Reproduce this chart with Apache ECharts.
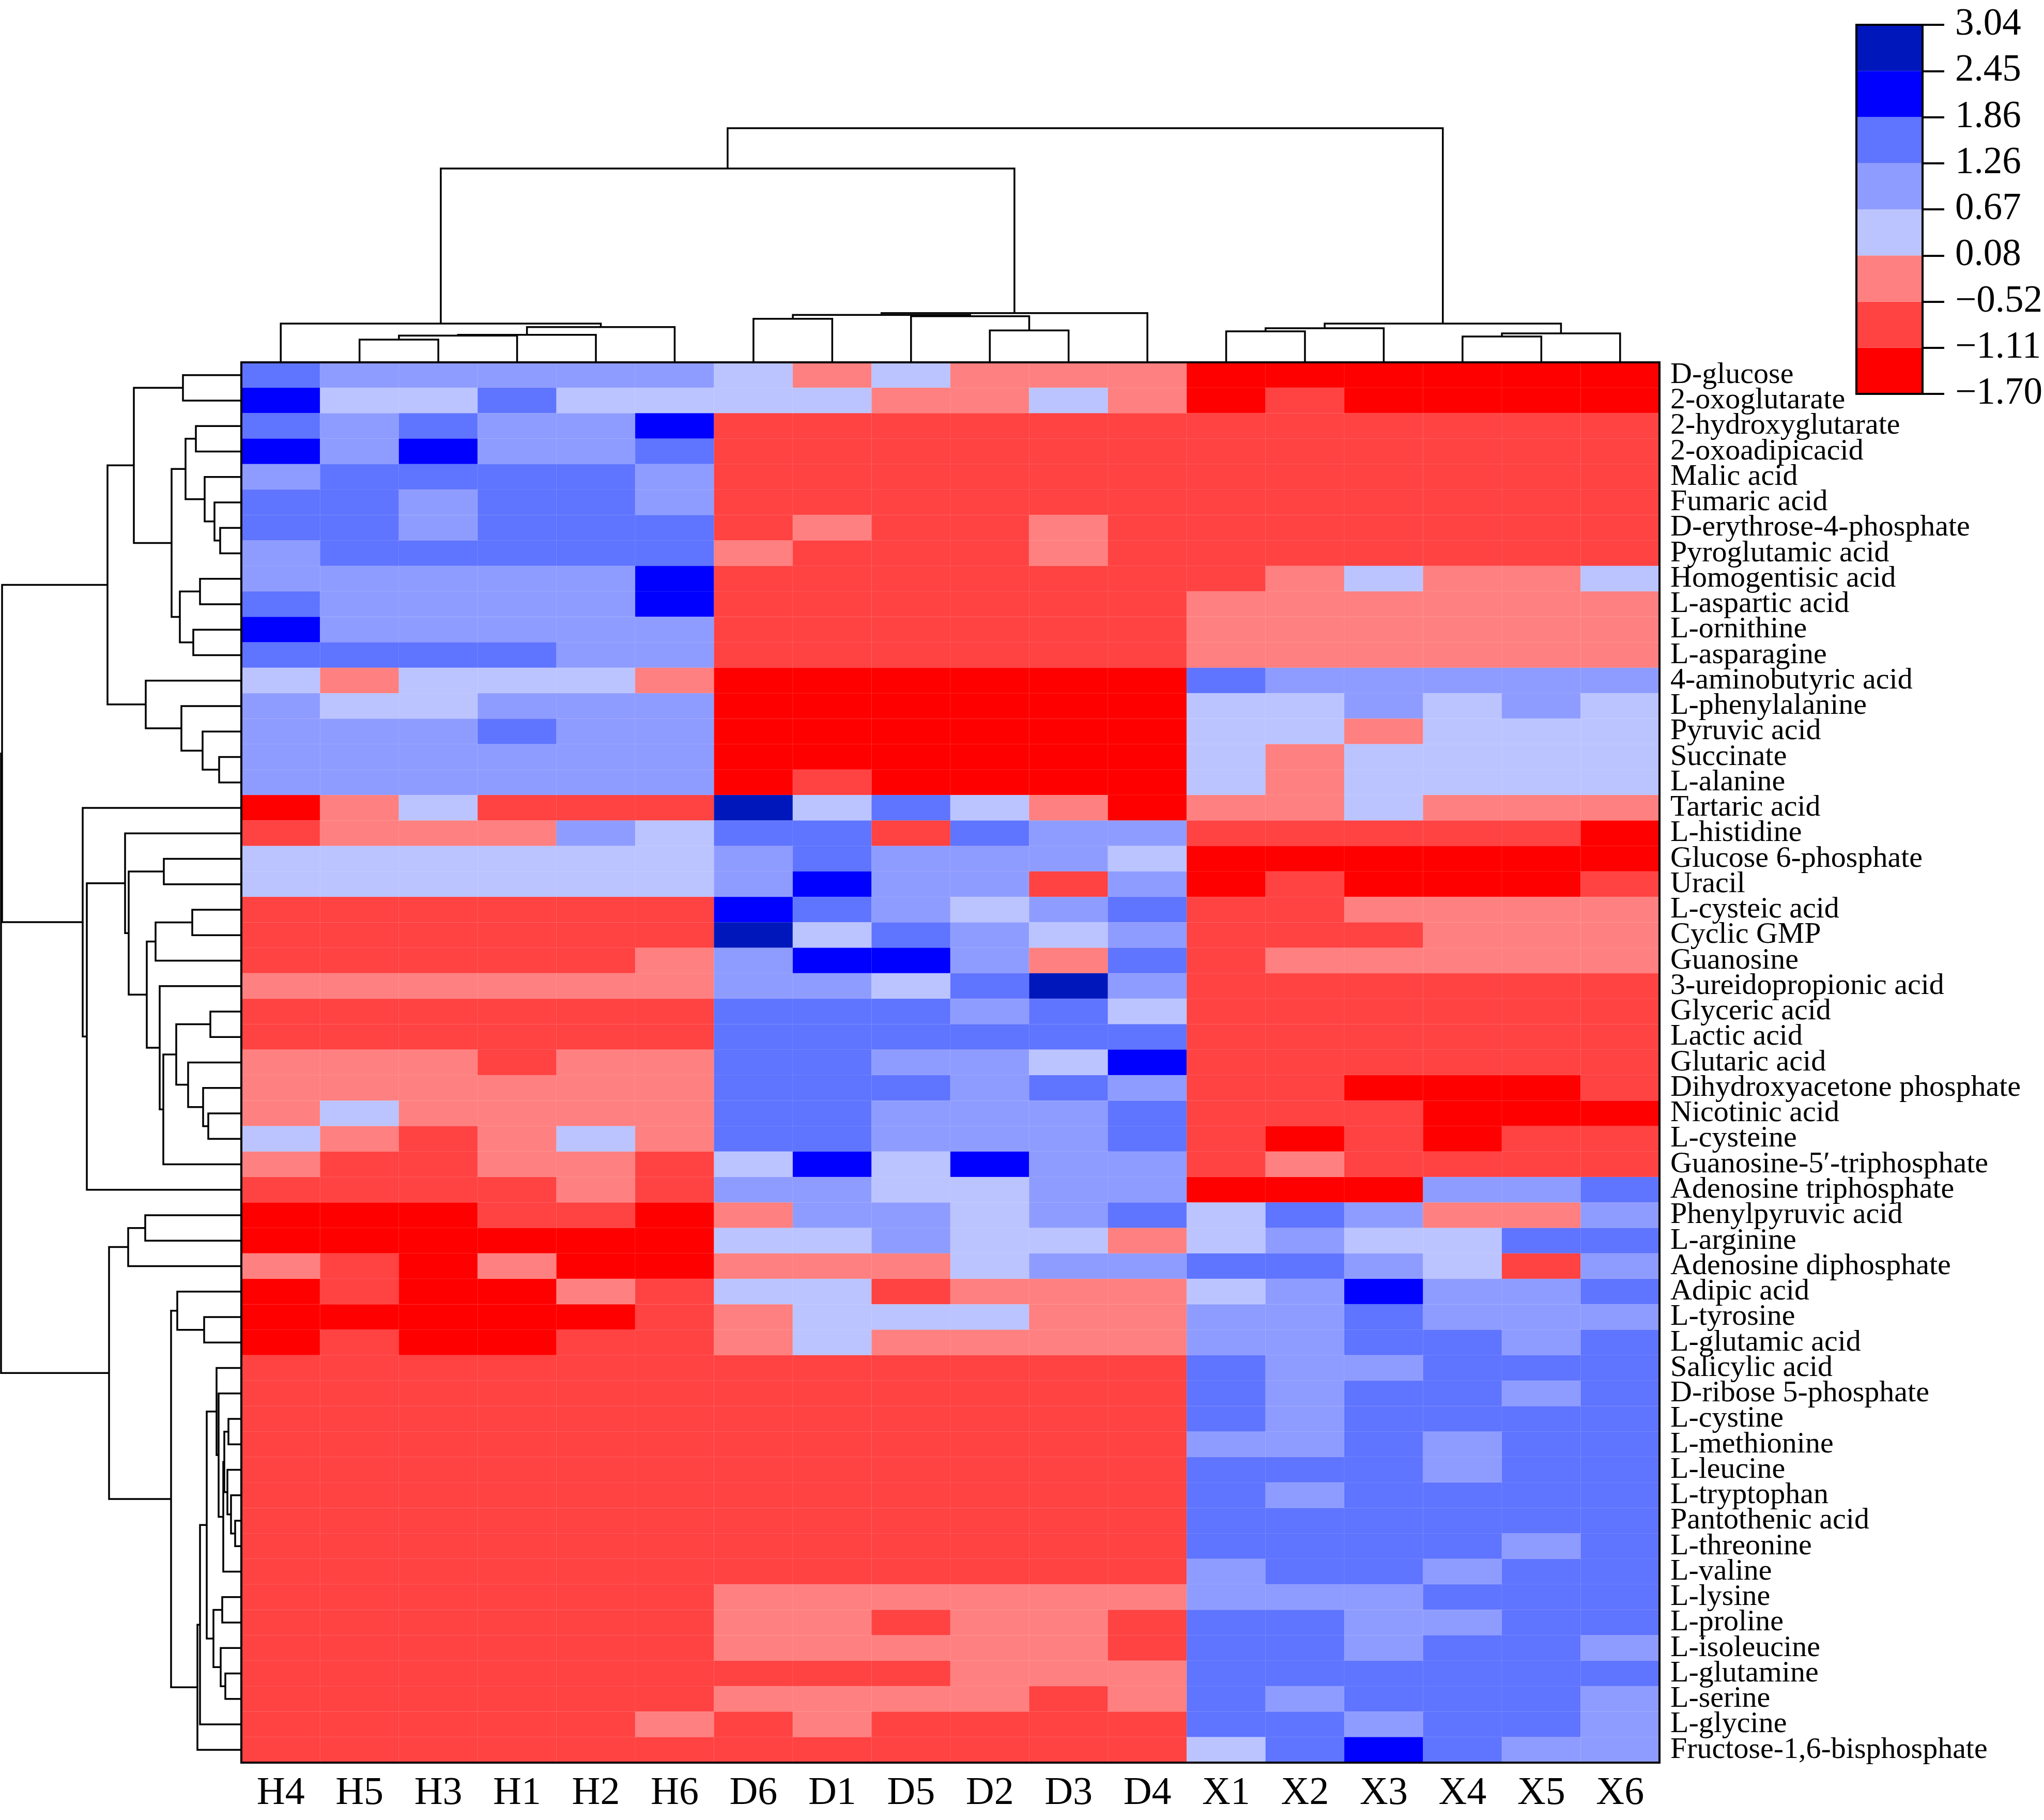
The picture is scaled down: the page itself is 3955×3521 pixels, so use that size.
<!DOCTYPE html>
<html>
<head>
    <meta charset="utf-8">
    <title>Metabolite heatmap</title>
    <script src="https://cdn.jsdelivr.net/npm/echarts@6/dist/echarts.min.js"></script>
    <style>
        html, body { margin: 0; padding: 0; background: #fff; }
        #main { width: 3955px; height: 3521px; }
    </style>
</head>
<body>
<div id="main"></div>
<script type="text/javascript">
    // column order as in the clustered picture
    var samples = ['H4', 'H5', 'H3', 'H1', 'H2', 'H6', 'D6', 'D1', 'D5', 'D2', 'D3', 'D4', 'X1', 'X2', 'X3', 'X4', 'X5', 'X6'];

    var metabolites = ['D-glucose', '2-oxoglutarate', '2-hydroxyglutarate', '2-oxoadipicacid', 'Malic acid', 'Fumaric acid',
        'D-erythrose-4-phosphate', 'Pyroglutamic acid', 'Homogentisic acid', 'L-aspartic acid', 'L-ornithine', 'L-asparagine',
        '4-aminobutyric acid', 'L-phenylalanine', 'Pyruvic acid', 'Succinate', 'L-alanine', 'Tartaric acid', 'L-histidine',
        'Glucose 6-phosphate', 'Uracil', 'L-cysteic acid', 'Cyclic GMP', 'Guanosine', '3-ureidopropionic acid', 'Glyceric acid',
        'Lactic acid', 'Glutaric acid', 'Dihydroxyacetone phosphate', 'Nicotinic acid', 'L-cysteine',
        'Guanosine-5\u2032-triphosphate', 'Adenosine triphosphate', 'Phenylpyruvic acid', 'L-arginine', 'Adenosine diphosphate',
        'Adipic acid', 'L-tyrosine', 'L-glutamic acid', 'Salicylic acid', 'D-ribose 5-phosphate', 'L-cystine', 'L-methionine',
        'L-leucine', 'L-tryptophan', 'Pantothenic acid', 'L-threonine', 'L-valine', 'L-lysine', 'L-proline', 'L-isoleucine',
        'L-glutamine', 'L-serine', 'L-glycine', 'Fructose-1,6-bisphosphate'];

    // z-scores, one row per metabolite, columns in sample order
    var values = [
        [1.56, 0.97, 0.97, 0.97, 0.97, 0.97, 0.38, -0.22, 0.38, -0.22, -0.22, -0.22, -1.45, -1.45, -1.45, -1.45, -1.45, -1.45],
        [2.15, 0.38, 0.38, 1.56, 0.38, 0.38, 0.38, 0.38, -0.22, -0.22, 0.38, -0.22, -1.45, -0.82, -1.45, -1.45, -1.45, -1.45],
        [1.56, 0.97, 1.56, 0.97, 0.97, 2.15, -0.82, -0.82, -0.82, -0.82, -0.82, -0.82, -0.82, -0.82, -0.82, -0.82, -0.82, -0.82],
        [2.15, 0.97, 2.15, 0.97, 0.97, 1.56, -0.82, -0.82, -0.82, -0.82, -0.82, -0.82, -0.82, -0.82, -0.82, -0.82, -0.82, -0.82],
        [0.97, 1.56, 1.56, 1.56, 1.56, 0.97, -0.82, -0.82, -0.82, -0.82, -0.82, -0.82, -0.82, -0.82, -0.82, -0.82, -0.82, -0.82],
        [1.56, 1.56, 0.97, 1.56, 1.56, 0.97, -0.82, -0.82, -0.82, -0.82, -0.82, -0.82, -0.82, -0.82, -0.82, -0.82, -0.82, -0.82],
        [1.56, 1.56, 0.97, 1.56, 1.56, 1.56, -0.82, -0.22, -0.82, -0.82, -0.22, -0.82, -0.82, -0.82, -0.82, -0.82, -0.82, -0.82],
        [0.97, 1.56, 1.56, 1.56, 1.56, 1.56, -0.22, -0.82, -0.82, -0.82, -0.22, -0.82, -0.82, -0.82, -0.82, -0.82, -0.82, -0.82],
        [0.97, 0.97, 0.97, 0.97, 0.97, 2.15, -0.82, -0.82, -0.82, -0.82, -0.82, -0.82, -0.82, -0.22, 0.38, -0.22, -0.22, 0.38],
        [1.56, 0.97, 0.97, 0.97, 0.97, 2.15, -0.82, -0.82, -0.82, -0.82, -0.82, -0.82, -0.22, -0.22, -0.22, -0.22, -0.22, -0.22],
        [2.15, 0.97, 0.97, 0.97, 0.97, 0.97, -0.82, -0.82, -0.82, -0.82, -0.82, -0.82, -0.22, -0.22, -0.22, -0.22, -0.22, -0.22],
        [1.56, 1.56, 1.56, 1.56, 0.97, 0.97, -0.82, -0.82, -0.82, -0.82, -0.82, -0.82, -0.22, -0.22, -0.22, -0.22, -0.22, -0.22],
        [0.38, -0.22, 0.38, 0.38, 0.38, -0.22, -1.45, -1.45, -1.45, -1.45, -1.45, -1.45, 1.56, 0.97, 0.97, 0.97, 0.97, 0.97],
        [0.97, 0.38, 0.38, 0.97, 0.97, 0.97, -1.45, -1.45, -1.45, -1.45, -1.45, -1.45, 0.38, 0.38, 0.97, 0.38, 0.97, 0.38],
        [0.97, 0.97, 0.97, 1.56, 0.97, 0.97, -1.45, -1.45, -1.45, -1.45, -1.45, -1.45, 0.38, 0.38, -0.22, 0.38, 0.38, 0.38],
        [0.97, 0.97, 0.97, 0.97, 0.97, 0.97, -1.45, -1.45, -1.45, -1.45, -1.45, -1.45, 0.38, -0.22, 0.38, 0.38, 0.38, 0.38],
        [0.97, 0.97, 0.97, 0.97, 0.97, 0.97, -1.45, -0.82, -1.45, -1.45, -1.45, -1.45, 0.38, -0.22, 0.38, 0.38, 0.38, 0.38],
        [-1.45, -0.22, 0.38, -0.82, -0.82, -0.82, 2.75, 0.38, 1.56, 0.38, -0.22, -1.45, -0.22, -0.22, 0.38, -0.22, -0.22, -0.22],
        [-0.82, -0.22, -0.22, -0.22, 0.97, 0.38, 1.56, 1.56, -0.82, 1.56, 0.97, 0.97, -0.82, -0.82, -0.82, -0.82, -0.82, -1.45],
        [0.38, 0.38, 0.38, 0.38, 0.38, 0.38, 0.97, 1.56, 0.97, 0.97, 0.97, 0.38, -1.45, -1.45, -1.45, -1.45, -1.45, -1.45],
        [0.38, 0.38, 0.38, 0.38, 0.38, 0.38, 0.97, 2.15, 0.97, 0.97, -0.82, 0.97, -1.45, -0.82, -1.45, -1.45, -1.45, -0.82],
        [-0.82, -0.82, -0.82, -0.82, -0.82, -0.82, 2.15, 1.56, 0.97, 0.38, 0.97, 1.56, -0.82, -0.82, -0.22, -0.22, -0.22, -0.22],
        [-0.82, -0.82, -0.82, -0.82, -0.82, -0.82, 2.75, 0.38, 1.56, 0.97, 0.38, 0.97, -0.82, -0.82, -0.82, -0.22, -0.22, -0.22],
        [-0.82, -0.82, -0.82, -0.82, -0.82, -0.22, 0.97, 2.15, 2.15, 0.97, -0.22, 1.56, -0.82, -0.22, -0.22, -0.22, -0.22, -0.22],
        [-0.22, -0.22, -0.22, -0.22, -0.22, -0.22, 0.97, 0.97, 0.38, 1.56, 2.75, 0.97, -0.82, -0.82, -0.82, -0.82, -0.82, -0.82],
        [-0.82, -0.82, -0.82, -0.82, -0.82, -0.82, 1.56, 1.56, 1.56, 0.97, 1.56, 0.38, -0.82, -0.82, -0.82, -0.82, -0.82, -0.82],
        [-0.82, -0.82, -0.82, -0.82, -0.82, -0.82, 1.56, 1.56, 1.56, 1.56, 1.56, 1.56, -0.82, -0.82, -0.82, -0.82, -0.82, -0.82],
        [-0.22, -0.22, -0.22, -0.82, -0.22, -0.22, 1.56, 1.56, 0.97, 0.97, 0.38, 2.15, -0.82, -0.82, -0.82, -0.82, -0.82, -0.82],
        [-0.22, -0.22, -0.22, -0.22, -0.22, -0.22, 1.56, 1.56, 1.56, 0.97, 1.56, 0.97, -0.82, -0.82, -1.45, -1.45, -1.45, -0.82],
        [-0.22, 0.38, -0.22, -0.22, -0.22, -0.22, 1.56, 1.56, 0.97, 0.97, 0.97, 1.56, -0.82, -0.82, -0.82, -1.45, -1.45, -1.45],
        [0.38, -0.22, -0.82, -0.22, 0.38, -0.22, 1.56, 1.56, 0.97, 0.97, 0.97, 1.56, -0.82, -1.45, -0.82, -1.45, -0.82, -0.82],
        [-0.22, -0.82, -0.82, -0.22, -0.22, -0.82, 0.38, 2.15, 0.38, 2.15, 0.97, 0.97, -0.82, -0.22, -0.82, -0.82, -0.82, -0.82],
        [-0.82, -0.82, -0.82, -0.82, -0.22, -0.82, 0.97, 0.97, 0.38, 0.38, 0.97, 0.97, -1.45, -1.45, -1.45, 0.97, 0.97, 1.56],
        [-1.45, -1.45, -1.45, -0.82, -0.82, -1.45, -0.22, 0.97, 0.97, 0.38, 0.97, 1.56, 0.38, 1.56, 0.97, -0.22, -0.22, 0.97],
        [-1.45, -1.45, -1.45, -1.45, -1.45, -1.45, 0.38, 0.38, 0.97, 0.38, 0.38, -0.22, 0.38, 0.97, 0.38, 0.38, 1.56, 1.56],
        [-0.22, -0.82, -1.45, -0.22, -1.45, -1.45, -0.22, -0.22, -0.22, 0.38, 0.97, 0.97, 1.56, 1.56, 0.97, 0.38, -0.82, 0.97],
        [-1.45, -0.82, -1.45, -1.45, -0.22, -0.82, 0.38, 0.38, -0.82, -0.22, -0.22, -0.22, 0.38, 0.97, 2.15, 0.97, 0.97, 1.56],
        [-1.45, -1.45, -1.45, -1.45, -1.45, -0.82, -0.22, 0.38, 0.38, 0.38, -0.22, -0.22, 0.97, 0.97, 1.56, 0.97, 0.97, 0.97],
        [-1.45, -0.82, -1.45, -1.45, -0.82, -0.82, -0.22, 0.38, -0.22, -0.22, -0.22, -0.22, 0.97, 0.97, 1.56, 1.56, 0.97, 1.56],
        [-0.82, -0.82, -0.82, -0.82, -0.82, -0.82, -0.82, -0.82, -0.82, -0.82, -0.82, -0.82, 1.56, 0.97, 0.97, 1.56, 1.56, 1.56],
        [-0.82, -0.82, -0.82, -0.82, -0.82, -0.82, -0.82, -0.82, -0.82, -0.82, -0.82, -0.82, 1.56, 0.97, 1.56, 1.56, 0.97, 1.56],
        [-0.82, -0.82, -0.82, -0.82, -0.82, -0.82, -0.82, -0.82, -0.82, -0.82, -0.82, -0.82, 1.56, 0.97, 1.56, 1.56, 1.56, 1.56],
        [-0.82, -0.82, -0.82, -0.82, -0.82, -0.82, -0.82, -0.82, -0.82, -0.82, -0.82, -0.82, 0.97, 0.97, 1.56, 0.97, 1.56, 1.56],
        [-0.82, -0.82, -0.82, -0.82, -0.82, -0.82, -0.82, -0.82, -0.82, -0.82, -0.82, -0.82, 1.56, 1.56, 1.56, 0.97, 1.56, 1.56],
        [-0.82, -0.82, -0.82, -0.82, -0.82, -0.82, -0.82, -0.82, -0.82, -0.82, -0.82, -0.82, 1.56, 0.97, 1.56, 1.56, 1.56, 1.56],
        [-0.82, -0.82, -0.82, -0.82, -0.82, -0.82, -0.82, -0.82, -0.82, -0.82, -0.82, -0.82, 1.56, 1.56, 1.56, 1.56, 1.56, 1.56],
        [-0.82, -0.82, -0.82, -0.82, -0.82, -0.82, -0.82, -0.82, -0.82, -0.82, -0.82, -0.82, 1.56, 1.56, 1.56, 1.56, 0.97, 1.56],
        [-0.82, -0.82, -0.82, -0.82, -0.82, -0.82, -0.82, -0.82, -0.82, -0.82, -0.82, -0.82, 0.97, 1.56, 1.56, 0.97, 1.56, 1.56],
        [-0.82, -0.82, -0.82, -0.82, -0.82, -0.82, -0.22, -0.22, -0.22, -0.22, -0.22, -0.22, 0.97, 0.97, 0.97, 1.56, 1.56, 1.56],
        [-0.82, -0.82, -0.82, -0.82, -0.82, -0.82, -0.22, -0.22, -0.82, -0.22, -0.22, -0.82, 1.56, 1.56, 0.97, 0.97, 1.56, 1.56],
        [-0.82, -0.82, -0.82, -0.82, -0.82, -0.82, -0.22, -0.22, -0.22, -0.22, -0.22, -0.82, 1.56, 1.56, 0.97, 1.56, 1.56, 0.97],
        [-0.82, -0.82, -0.82, -0.82, -0.82, -0.82, -0.82, -0.82, -0.82, -0.22, -0.22, -0.22, 1.56, 1.56, 1.56, 1.56, 1.56, 1.56],
        [-0.82, -0.82, -0.82, -0.82, -0.82, -0.82, -0.22, -0.22, -0.22, -0.22, -0.82, -0.22, 1.56, 0.97, 1.56, 1.56, 1.56, 0.97],
        [-0.82, -0.82, -0.82, -0.82, -0.82, -0.22, -0.82, -0.22, -0.82, -0.82, -0.82, -0.82, 1.56, 1.56, 0.97, 1.56, 1.56, 0.97],
        [-0.82, -0.82, -0.82, -0.82, -0.82, -0.82, -0.82, -0.82, -0.82, -0.82, -0.82, -0.82, 0.38, 1.56, 2.15, 1.56, 0.97, 0.97]
    ];

    // linkage tables: [child a, child b, merge height]; ids >= n are earlier merges
    var colLinkage = [
        [1, 2, 4.3], [18, 3, 5.07], [19, 4, 5.23], [20, 5, 6.73], [0, 21, 7.4],
        [6, 7, 8.33], [9, 10, 6.07], [8, 24, 8.83], [23, 25, 9.07], [26, 11, 9.43],
        [22, 27, 37.4],
        [12, 13, 5.9], [29, 14, 6.5], [15, 16, 4.9], [31, 17, 5.5], [30, 32, 7.4],
        [28, 33, 45.2]
    ];

    var rowLinkage = [
        [0, 1, 11.2], [2, 3, 8.7], [6, 7, 4.0], [5, 57, 5.1], [4, 58, 7.0], [56, 59, 10.7],
        [8, 9, 7.9], [10, 11, 9.2], [61, 62, 11.8], [60, 63, 13.4], [55, 64, 20.7],
        [15, 16, 4.2], [14, 66, 7.4], [13, 67, 11.5], [12, 68, 18.4], [65, 69, 25.8],
        [19, 20, 14.9], [21, 22, 9.4], [72, 23, 16.5], [25, 26, 5.9], [29, 30, 6.3], [28, 75, 7.3],
        [27, 76, 10.2], [74, 77, 12.5], [78, 31, 15.0], [24, 79, 15.7], [73, 80, 18.2], [71, 81, 21.7],
        [18, 82, 22.4], [83, 32, 29.8], [17, 84, 30.6],
        [33, 34, 18.5], [86, 35, 21.8], [37, 38, 7.1], [36, 88, 12.3],
        [45, 46, 1.1], [44, 90, 1.9], [43, 91, 2.6], [41, 42, 2.4], [93, 92, 3.2], [94, 47, 3.4],
        [40, 95, 4.3], [39, 96, 4.7], [48, 49, 3.6], [51, 52, 3.0], [50, 99, 3.9], [98, 100, 5.3],
        [97, 101, 6.6], [102, 53, 7.9], [103, 54, 8.4], [89, 104, 13.5], [87, 105, 25.5],
        [70, 85, 46.2], [107, 106, 46.4]
    ];

    var levelBounds = [-1.70, -1.11, -0.52, 0.08, 0.67, 1.26, 1.86, 2.45, 3.04];
    var boundLabels = ['\u22121.70', '\u22121.11', '\u22120.52', '0.08', '0.67', '1.26', '1.86', '2.45', '3.04'];
    var levelColors = ['#ff0000', '#ff4242', '#ff8080', '#bbc4ff', '#8f9cff', '#5f74ff', '#0000ff', '#0018bb'];

    var FONT = 'Liberation Serif, Times New Roman, serif';

    function dendroLines(linkage, nLeaves, swap) {
        var pos = [], hgt = [], out = [];
        for (var i = 0; i < nLeaves; i++) { pos.push(i); hgt.push(0); }
        linkage.forEach(function (m) {
            var a = m[0], b = m[1], h = m[2];
            var pts = [[pos[a], hgt[a]], [pos[a], h], [pos[b], h], [pos[b], hgt[b]]];
            if (swap) pts = pts.map(function (p) { return [p[1], p[0]]; });
            out.push({ coords: pts });
            pos.push((pos[a] + pos[b]) / 2);
            hgt.push(h);
        });
        return out;
    }

    var heatData = [];
    values.forEach(function (row, r) {
        row.forEach(function (v, c) { heatData.push([c, r, v]); });
    });

    var pieces = [];
    for (var k = 0; k < levelColors.length; k++) {
        pieces.push({ gte: levelBounds[k], lt: levelBounds[k + 1], color: levelColors[k] });
    }

    var barSeries = levelColors.map(function (col, i) {
        return {
            type: 'bar', name: 'lvl' + i, xAxisIndex: 3, yAxisIndex: 3, stack: 'cb',
            barWidth: '100%', silent: true, data: [1], itemStyle: { color: col }
        };
    });

    var myChart = echarts.init(document.getElementById('main'), null, { renderer: 'canvas' });

    var option = {
        backgroundColor: '#fff',
        animation: false,
        grid: [
            { left: 467, top: 701, width: 2744, height: 2709, show: true, z: 10,
              borderColor: '#000', borderWidth: 4, backgroundColor: 'transparent' },
            { left: 467, top: 248, width: 2744, height: 452 },
            { left: 1, top: 701, width: 465, height: 2709 },
            { left: 3592, top: 48, width: 128, height: 714, show: true, z: 10,
              borderColor: '#000', borderWidth: 4, backgroundColor: 'transparent' }
        ],
        xAxis: [
            { type: 'category', gridIndex: 0, data: samples, position: 'bottom',
              axisLine: { show: false }, axisTick: { show: false }, splitLine: { show: false },
              axisLabel: { interval: 0, margin: 22, fontSize: 76, color: '#000', fontFamily: FONT } },
            { type: 'value', gridIndex: 1, min: -0.5, max: 17.5, show: false },
            { type: 'value', gridIndex: 2, min: 0, max: 46.5, inverse: true, show: false },
            { type: 'category', gridIndex: 3, data: ['z'], show: false }
        ],
        yAxis: [
            { type: 'category', gridIndex: 0, data: metabolites, inverse: true, position: 'right',
              axisLine: { show: false }, axisTick: { show: false }, splitLine: { show: false },
              axisLabel: { interval: 0, margin: 21, fontSize: 58, color: '#000', fontFamily: FONT } },
            { type: 'value', gridIndex: 1, min: 0, max: 45.2, show: false },
            { type: 'value', gridIndex: 2, min: -0.5, max: 54.5, inverse: true, show: false },
            { type: 'value', gridIndex: 3, min: 0, max: 8, interval: 1, position: 'right', z: 11,
              splitLine: { show: false },
              axisLine: { show: true, lineStyle: { color: '#000', width: 4 } },
              axisTick: { show: true, inside: false, length: 42, lineStyle: { color: '#000', width: 4 } },
              axisLabel: { showMinLabel: true, showMaxLabel: true, margin: 63, fontSize: 73, color: '#000',
                           fontFamily: FONT, padding: [0, 0, 18, 0],
                           formatter: function (v) { return boundLabels[v]; } } }
        ],
        visualMap: {
            type: 'piecewise', show: false, seriesIndex: 0, dimension: 2, pieces: pieces
        },
        series: [
            { type: 'heatmap', xAxisIndex: 0, yAxisIndex: 0, data: heatData,
              itemStyle: { borderColor: 'rgba(255,255,255,0.12)', borderWidth: 1 } },
            { type: 'lines', coordinateSystem: 'cartesian2d', xAxisIndex: 1, yAxisIndex: 1,
              polyline: true, clip: false, silent: true, data: dendroLines(colLinkage, samples.length, false),
              lineStyle: { color: '#000', width: 3.5, opacity: 1 } },
            { type: 'lines', coordinateSystem: 'cartesian2d', xAxisIndex: 2, yAxisIndex: 2,
              polyline: true, clip: false, silent: true, data: dendroLines(rowLinkage, metabolites.length, true),
              lineStyle: { color: '#000', width: 3.5, opacity: 1 } }
        ].concat(barSeries)
    };

    myChart.setOption(option);
    window.onresize = myChart.resize;
</script>
</body>
</html>
